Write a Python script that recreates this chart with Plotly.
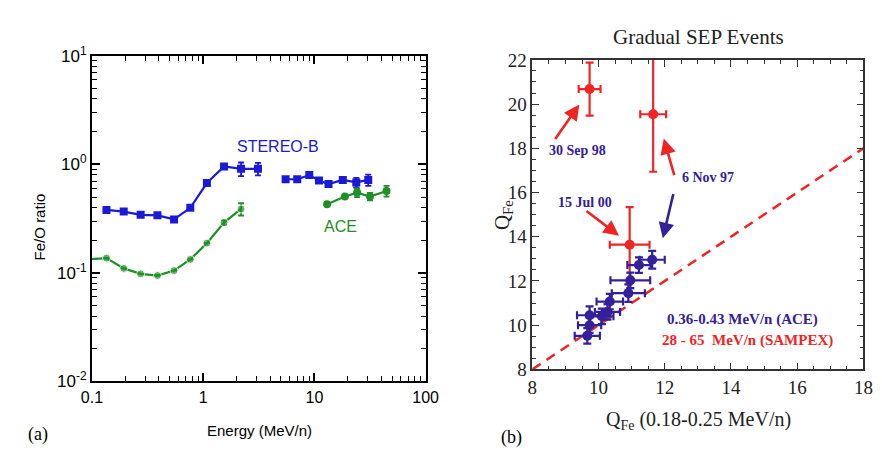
import plotly.graph_objects as go

# ---------- Panel (a): Fe/O ratio vs energy ----------
stereo_E1 = [0.135, 0.193, 0.274, 0.388, 0.547, 0.766, 1.08, 1.54, 2.19, 3.11]
stereo_R1 = [0.380, 0.367, 0.343, 0.339, 0.311, 0.398, 0.673, 0.955, 0.910, 0.910]
stereo_err1 = [0, 0, 0, 0, 0, 0, 0, 0, 0.13, 0.12]
stereo_E2 = [5.51, 7.01, 8.99, 11.0, 13.4, 18.0, 23.8, 30.5]
stereo_R2 = [0.729, 0.729, 0.796, 0.710, 0.659, 0.719, 0.682, 0.719]
stereo_err2 = [0, 0, 0, 0, 0, 0, 0.07, 0.085]

ace_E1 = [0.097, 0.135, 0.193, 0.274, 0.388, 0.547, 0.766, 1.08, 1.54, 2.19]
ace_R1 = [0.134, 0.137, 0.110, 0.098, 0.0946, 0.105, 0.133, 0.188, 0.291, 0.388]
ace_err1 = [0, 0, 0, 0, 0, 0, 0, 0, 0.015, 0.05]
ace_size1 = [0, 8, 8, 8, 8, 8, 8, 8, 8, 8]
ace_E2 = [13.0, 18.8, 24.2, 31.6, 44.5]
ace_R2 = [0.429, 0.505, 0.549, 0.505, 0.569]
ace_err2 = [0, 0, 0.05, 0.04, 0.065]

# ---------- Panel (b): charge states ----------
ace_qx = [9.66, 9.73, 9.73, 10.1, 10.27, 10.34, 10.9, 10.96, 11.22, 11.62]
ace_qy = [9.52, 10.0, 10.45, 10.4, 10.6, 11.07, 11.45, 12.03, 12.72, 12.96]
ace_qx_err = [0.38, 0.35, 0.38, 0.35, 0.38, 0.4, 0.5, 0.6, 0.35, 0.38]
ace_qy_err = [0.35, 0.35, 0.4, 0.35, 0.35, 0.35, 0.4, 0.35, 0.35, 0.4]

sampex_qx = [9.73, 11.65, 10.94]
sampex_qy = [20.68, 19.54, 13.64]
sampex_qx_err = [0.33, 0.39, 0.6]
sampex_qy_err = [1.2, 2.6, 1.7]

diag = [8, 18]

BLUE = "#1a1ad6"
GREEN = "#1f8f26"
INDIGO = "#33209a"
RED = "#f02424"
SANS = "Liberation Sans, Arial, sans-serif"
SERIF = "Liberation Serif, Times New Roman, serif"

fig = go.Figure()

def ebar(vals, color):
    return dict(type="data", array=vals, visible=True, color=color, thickness=1.8, width=3)

fig.add_trace(go.Scatter(x=stereo_E1, y=stereo_R1, mode="lines+markers",
                         line=dict(color=BLUE, width=2.2),
                         marker=dict(symbol="square", size=8, color=BLUE),
                         error_y=ebar(stereo_err1, BLUE), xaxis="x", yaxis="y"))
fig.add_trace(go.Scatter(x=stereo_E2, y=stereo_R2, mode="lines+markers",
                         line=dict(color=BLUE, width=2.2),
                         marker=dict(symbol="square", size=8, color=BLUE),
                         error_y=ebar(stereo_err2, BLUE), xaxis="x", yaxis="y"))
fig.add_trace(go.Scatter(x=ace_E1, y=ace_R1, mode="lines+markers",
                         line=dict(color=GREEN, width=2.2),
                         marker=dict(symbol="circle", size=ace_size1, color=GREEN),
                         error_y=ebar(ace_err1, GREEN), xaxis="x", yaxis="y"))
fig.add_trace(go.Scatter(x=ace_E2, y=ace_R2, mode="lines+markers",
                         line=dict(color=GREEN, width=2.2),
                         marker=dict(symbol="circle", size=8, color=GREEN),
                         error_y=ebar(ace_err2, GREEN), xaxis="x", yaxis="y"))

# panel b
fig.add_trace(go.Scatter(x=diag, y=diag, mode="lines",
                         line=dict(color=RED, width=2.5, dash="10px,7px"),
                         xaxis="x2", yaxis="y2"))
fig.add_trace(go.Scatter(x=sampex_qx, y=sampex_qy, mode="markers",
                         marker=dict(symbol="circle", size=10, color=RED),
                         error_x=dict(type="data", array=sampex_qx_err, color=RED, thickness=2.2, width=4),
                         error_y=dict(type="data", array=sampex_qy_err, color=RED, thickness=2.2, width=4),
                         xaxis="x2", yaxis="y2"))
fig.add_trace(go.Scatter(x=ace_qx, y=ace_qy, mode="markers",
                         marker=dict(symbol="circle", size=10, color=INDIGO),
                         error_x=dict(type="data", array=ace_qx_err, color=INDIGO, thickness=2.2, width=4),
                         error_y=dict(type="data", array=ace_qy_err, color=INDIGO, thickness=2.2, width=4),
                         xaxis="x2", yaxis="y2"))

minor_log = [m * 10 ** d for d in range(-3, 3) for m in range(2, 10)]

fig.update_layout(
    width=882, height=455, margin=dict(l=0, r=0, t=0, b=0),
    paper_bgcolor="white", plot_bgcolor="white", showlegend=False,
    xaxis=dict(domain=[75 / 882, 418 / 882], type="log", range=[-1, 2],
               tickvals=[0.1, 1, 10, 100], ticktext=["0.1", "1", "10", "100"],
               ticks="inside", ticklen=8, tickwidth=1.5, tickcolor="black",
               showline=True, linecolor="black", linewidth=2, mirror="ticks",
               showgrid=False, zeroline=False,
               tickfont=dict(family=SANS, size=16, color="black"),
               minor=dict(tickvals=minor_log, ticks="inside", ticklen=5, tickwidth=1.2,
                          tickcolor="black", showgrid=False),
               anchor="y"),
    yaxis=dict(domain=[1 - 380.7 / 455, 1 - 37.7 / 455], type="log", range=[-2, 1],
               tickvals=[0.01, 0.1, 1, 10],
               ticktext=["10<sup>-2</sup>", "10<sup>-1</sup>", "10<sup>0</sup>", "10<sup>1</sup>"],
               ticks="inside", ticklen=8, tickwidth=1.5, tickcolor="black",
               showline=True, linecolor="black", linewidth=2, mirror="ticks",
               showgrid=False, zeroline=False,
               tickfont=dict(family=SANS, size=17, color="black"),
               minor=dict(tickvals=minor_log, ticks="inside", ticklen=5, tickwidth=1.2,
                          tickcolor="black", showgrid=False),
               anchor="x"),
    xaxis2=dict(domain=[527.7 / 882, 868 / 882], range=[8, 18], dtick=2,
                ticks="inside", ticklen=7, tickwidth=1.3, tickcolor="#333",
                showline=True, linecolor="#333", linewidth=1.6, mirror="ticks",
                showgrid=False, zeroline=False,
                tickfont=dict(family=SERIF, size=19, color="#222"),
                minor=dict(dtick=0.5, ticks="inside", ticklen=4, tickwidth=1.3,
                           tickcolor="#333", showgrid=False),
                anchor="y2"),
    yaxis2=dict(domain=[1 - 368 / 455, 1 - 42 / 455], range=[8, 22], dtick=2,
                ticks="inside", ticklen=7, tickwidth=1.3, tickcolor="#333",
                showline=True, linecolor="#333", linewidth=1.6, mirror="ticks",
                showgrid=False, zeroline=False,
                tickfont=dict(family=SERIF, size=19, color="#222"),
                minor=dict(dtick=0.5, ticks="inside", ticklen=4, tickwidth=1.3,
                           tickcolor="#333", showgrid=False),
                anchor="x2"),
)

ann = []
def ptext(x, y, text, font, angle=0):
    ann.append(dict(x=x / 882, y=1 - y / 455, xref="paper", yref="paper", text=text,
                    showarrow=False, font=font, textangle=angle,
                    xanchor="center", yanchor="middle"))

# panel a texts
ptext(22, 218, "Fe/O ratio", dict(family=SANS, size=15, color="black"), -90)
ptext(247, 432, "Energy (MeV/n)", dict(family=SANS, size=15, color="black"))
ptext(266, 133, "STEREO-B", dict(family=SANS, size=16, color=BLUE))
ptext(331, 217, "ACE", dict(family=SANS, size=16, color=GREEN))
ptext(20, 437, "(a)", dict(family=SERIF, size=18, color="black"))
# panel b texts
ptext(699, 18, "Gradual SEP Events", dict(family=SERIF, size=21, color="#222"))
ptext(698, 422, "Q<sub>Fe</sub> (0.18-0.25 MeV/n)", dict(family=SERIF, size=20, color="#222"))
ptext(497, 205, "Q<sub>Fe</sub>", dict(family=SERIF, size=21, color="#222"), -90)
ptext(506, 440, "(b)", dict(family=SERIF, size=18, color="black"))

def dtext(x, y, text, color, size=14):
    ann.append(dict(x=x, y=y, xref="x2", yref="y2", text="<b>" + text + "</b>",
                    showarrow=False, font=dict(family=SERIF, size=size, color=color),
                    xanchor="center", yanchor="middle"))

dtext(9.36, 17.92, "30 Sep 98", INDIGO)
dtext(13.3, 16.68, "6 Nov 97", INDIGO)
dtext(9.6, 15.56, "15 Jul 00", INDIGO)
dtext(14.36, 10.24, "0.36-0.43 MeV/n (ACE)", INDIGO, 15)
dtext(14.5, 9.29, "28 - 65&nbsp;&nbsp;MeV/n (SAMPEX)", RED, 15)

def arrow(tx, ty, hx, hy, color):
    ann.append(dict(x=hx, y=hy, ax=tx, ay=ty, xref="x2", yref="y2", axref="x2", ayref="y2",
                    text="", showarrow=True, arrowhead=2, arrowsize=1.2, arrowwidth=2.6,
                    arrowcolor=color, standoff=0))

arrow(8.66, 18.35, 9.42, 19.98, RED)
arrow(12.30, 16.72, 11.97, 18.44, RED)
arrow(9.59, 15.22, 10.62, 14.04, RED)
arrow(12.27, 16.0, 11.94, 13.93, INDIGO)

fig.update_layout(annotations=ann)
fig.write_html("out.html")
